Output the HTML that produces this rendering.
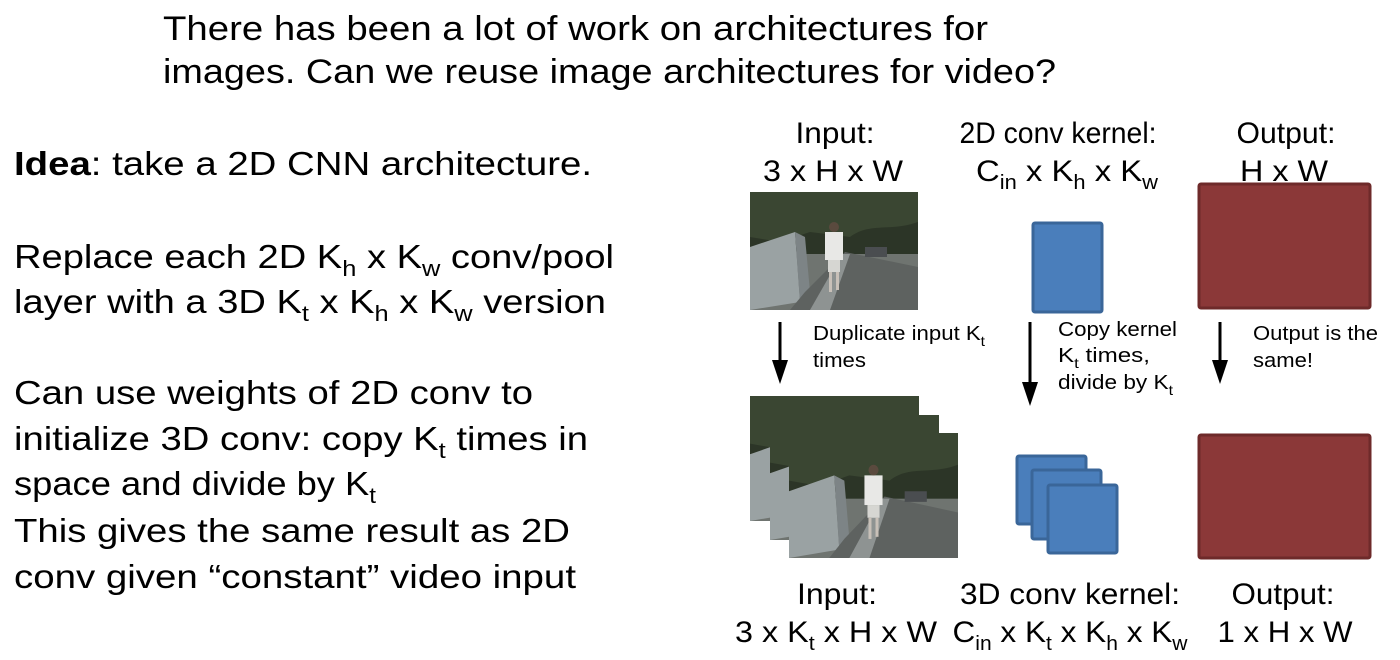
<!DOCTYPE html>
<html><head><meta charset="utf-8"><style>
html,body{margin:0;padding:0;background:#fff;}
svg{display:block;font-family:"Liberation Sans",Arial,sans-serif;}
</style></head><body>
<svg width="1400" height="660" viewBox="0 0 1400 660" xmlns="http://www.w3.org/2000/svg">
<defs>
<symbol id="photo" viewBox="0 0 168 118" preserveAspectRatio="none">
  <rect width="168" height="118" fill="#6f7470"/>
  <rect width="168" height="62" fill="#2c3527"/>
  <path d="M0 0H168V30C140 40 120 30 100 45L60 40L30 50L0 45Z" fill="#3a4632"/>
  <polygon points="0,55 45,40 50,110 0,118" fill="#9aa2a3"/>
  <polygon points="45,40 55,45 60,100 50,110" fill="#7d8486"/>
  <polygon points="55,100 95,60 168,75 168,118 40,118" fill="#5e6260"/>
  <polygon points="60,118 92,62 100,62 80,118" fill="#8e9392"/>
  <rect x="75" y="40" width="18" height="28" fill="#e8e8e6"/>
  <rect x="78" y="68" width="12" height="12" fill="#d6d6d2"/>
  <rect x="79" y="80" width="3" height="20" fill="#c8c0b8"/>
  <rect x="86" y="80" width="3" height="18" fill="#c8c0b8"/>
  <circle cx="84" cy="35" r="5" fill="#5a4a3e"/>
  <rect x="115" y="55" width="22" height="10" fill="#4a4d50"/>
</symbol>
</defs>

<g font-size="34" fill="#000" lengthAdjust="spacingAndGlyphs">
<text x="163" y="40" textLength="825" lengthAdjust="spacingAndGlyphs">There has been a lot of work on architectures for</text>
<text x="163" y="83" textLength="893" lengthAdjust="spacingAndGlyphs">images. Can we reuse image architectures for video?</text>
</g>

<g font-size="33" fill="#000">
<text x="14" y="175" textLength="578" lengthAdjust="spacingAndGlyphs"><tspan font-weight="bold">Idea</tspan>: take a 2D CNN architecture.</text>
<text x="14" y="268" textLength="600" lengthAdjust="spacingAndGlyphs">Replace each 2D K<tspan font-size="22" dy="8">h</tspan><tspan dy="-8"> x K</tspan><tspan font-size="22" dy="8">w</tspan><tspan dy="-8"> conv/pool</tspan></text>
<text x="14" y="313" textLength="592" lengthAdjust="spacingAndGlyphs">layer with a 3D K<tspan font-size="22" dy="8">t</tspan><tspan dy="-8"> x K</tspan><tspan font-size="22" dy="8">h</tspan><tspan dy="-8"> x K</tspan><tspan font-size="22" dy="8">w</tspan><tspan dy="-8"> version</tspan></text>
<text x="14" y="404" textLength="519" lengthAdjust="spacingAndGlyphs">Can use weights of 2D conv to</text>
<text x="14" y="450" textLength="574" lengthAdjust="spacingAndGlyphs">initialize 3D conv: copy K<tspan font-size="22" dy="8">t</tspan><tspan dy="-8"> times in</tspan></text>
<text x="14" y="495" textLength="362" lengthAdjust="spacingAndGlyphs">space and divide by K<tspan font-size="22" dy="8">t</tspan></text>
<text x="14" y="542" textLength="556" lengthAdjust="spacingAndGlyphs">This gives the same result as 2D</text>
<text x="14" y="588" textLength="562" lengthAdjust="spacingAndGlyphs">conv given “constant” video input</text>
</g>

<use href="#photo" x="750" y="192" width="168" height="118"/>
<rect x="1033" y="223" width="69" height="89" fill="#4a7ebb" stroke="#3a6699" stroke-width="3" rx="2"/>
<rect x="1199" y="184" width="171" height="124" fill="#8b3838" stroke="#6e2a2a" stroke-width="3" rx="2"/>

<g font-size="30" fill="#000" text-anchor="middle">
<text x="835" y="143" textLength="79" lengthAdjust="spacingAndGlyphs">Input:</text>
<text x="833" y="181" textLength="140" lengthAdjust="spacingAndGlyphs">3 x H x W</text>
<text x="1058" y="143" textLength="197" lengthAdjust="spacingAndGlyphs">2D conv kernel:</text>
<text x="1067" y="181" textLength="182" lengthAdjust="spacingAndGlyphs">C<tspan font-size="20" dy="8">in</tspan><tspan dy="-8"> x K</tspan><tspan font-size="20" dy="8">h</tspan><tspan dy="-8"> x K</tspan><tspan font-size="20" dy="8">w</tspan></text>
<text x="1286" y="143" textLength="99" lengthAdjust="spacingAndGlyphs">Output:</text>
<text x="1284" y="181" textLength="88" lengthAdjust="spacingAndGlyphs">H x W</text>
</g>

<g fill="#000" stroke="#000">
<line x1="780" y1="322" x2="780" y2="362" stroke-width="3"/>
<polygon points="772,360 788,360 780,384" stroke="none"/>
<line x1="1030" y1="322" x2="1030" y2="384" stroke-width="3"/>
<polygon points="1022,382 1038,382 1030,406" stroke="none"/>
<line x1="1220" y1="322" x2="1220" y2="362" stroke-width="3"/>
<polygon points="1212,360 1228,360 1220,384" stroke="none"/>
</g>

<g font-size="20" fill="#000">
<text x="813" y="340" textLength="172" lengthAdjust="spacingAndGlyphs">Duplicate input K<tspan font-size="14" dy="6">t</tspan></text>
<text x="813" y="367" textLength="53" lengthAdjust="spacingAndGlyphs">times</text>
<text x="1058" y="336" textLength="119" lengthAdjust="spacingAndGlyphs">Copy kernel</text>
<text x="1058" y="362" textLength="92" lengthAdjust="spacingAndGlyphs">K<tspan font-size="14" dy="6">t</tspan><tspan dy="-6"> times,</tspan></text>
<text x="1058" y="389" textLength="115" lengthAdjust="spacingAndGlyphs">divide by K<tspan font-size="14" dy="6">t</tspan></text>
<text x="1253" y="340" textLength="125" lengthAdjust="spacingAndGlyphs">Output is the</text>
<text x="1253" y="367" textLength="60" lengthAdjust="spacingAndGlyphs">same!</text>
</g>

<use href="#photo" x="750" y="396" width="169" height="125"/>
<use href="#photo" x="770" y="415" width="169" height="125"/>
<use href="#photo" x="789" y="433" width="169" height="125"/>
<rect x="1017" y="456" width="69" height="68" fill="#4a7ebb" stroke="#3a6699" stroke-width="3" rx="2"/>
<rect x="1032" y="470" width="69" height="69" fill="#4a7ebb" stroke="#3a6699" stroke-width="3" rx="2"/>
<rect x="1048" y="485" width="69" height="68" fill="#4a7ebb" stroke="#3a6699" stroke-width="3" rx="2"/>
<rect x="1199" y="435" width="171" height="123" fill="#8b3838" stroke="#6e2a2a" stroke-width="3" rx="2"/>

<g font-size="30" fill="#000" text-anchor="middle">
<text x="837" y="604" textLength="80" lengthAdjust="spacingAndGlyphs">Input:</text>
<text x="836" y="642" textLength="202" lengthAdjust="spacingAndGlyphs">3 x K<tspan font-size="20" dy="8">t</tspan><tspan dy="-8"> x H x W</tspan></text>
<text x="1070" y="604" textLength="220" lengthAdjust="spacingAndGlyphs">3D conv kernel:</text>
<text x="1070" y="642" textLength="235" lengthAdjust="spacingAndGlyphs">C<tspan font-size="20" dy="8">in</tspan><tspan dy="-8"> x K</tspan><tspan font-size="20" dy="8">t</tspan><tspan dy="-8"> x K</tspan><tspan font-size="20" dy="8">h</tspan><tspan dy="-8"> x K</tspan><tspan font-size="20" dy="8">w</tspan></text>
<text x="1283" y="604" textLength="103" lengthAdjust="spacingAndGlyphs">Output:</text>
<text x="1285" y="642" textLength="135" lengthAdjust="spacingAndGlyphs">1 x H x W</text>
</g>
</svg>
</body></html>
